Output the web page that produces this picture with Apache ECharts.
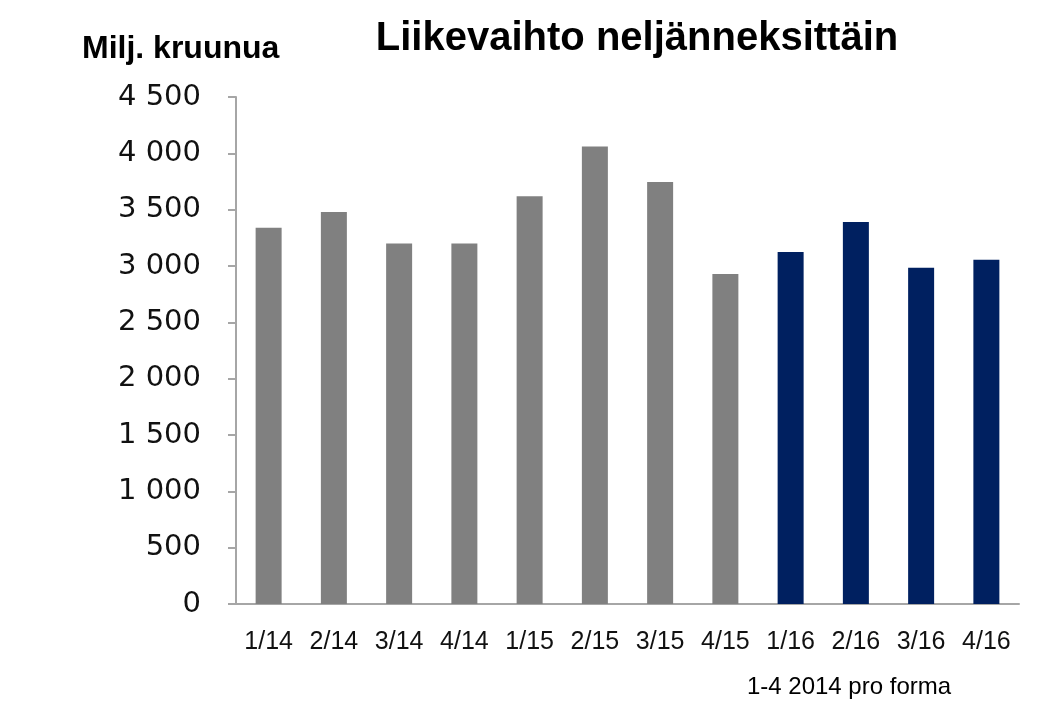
<!DOCTYPE html>
<html>
<head>
<meta charset="utf-8">
<script src="https://cdn.jsdelivr.net/npm/echarts@6/dist/echarts.min.js"></script>
<style>
html,body{margin:0;padding:0;background:#fff;}
#chart{width:1061px;height:719px;}
</style>
</head>
<body>
<div id="chart"></div>
<script>
const categories = ['1/14','2/14','3/14','4/14','1/15','2/15','3/15','4/15','1/16','2/16','3/16','4/16'];
const revenue = [3340, 3480, 3200, 3200, 3620, 4060, 3745, 2930, 3125, 3390, 2985, 3055];
const barColors = ['#808080','#808080','#808080','#808080','#808080','#808080','#808080','#808080','#002060','#002060','#002060','#002060'];
const titleText = 'Liikevaihto neljänneksittäin';
const unitText = 'Milj. kruunua';
const noteText = '1-4 2014 pro forma';

const chart = echarts.init(document.getElementById('chart'));
const sans = '"Liberation Sans", Arial, sans-serif';
chart.setOption({
  animation: false,
  backgroundColor: '#ffffff',
  title: [
    {text: titleText, left: 632, top: 14, textAlign: 'center',
     textStyle: {fontFamily: sans, fontWeight: 'bold', fontSize: 40, color: '#000'}},
    {text: unitText, left: 77, top: 28,
     textStyle: {fontFamily: sans, fontWeight: 'bold', fontSize: 32, color: '#000'}},
    {text: noteText, left: 844, top: 670, textAlign: 'center',
     textStyle: {fontFamily: sans, fontWeight: 'normal', fontSize: 24, color: '#000'}}
  ],
  grid: {left: 236, right: 42, top: 97, bottom: 115, containLabel: false},
  xAxis: {
    type: 'category',
    data: categories,
    axisLine: {lineStyle: {color: '#a6a6a6', width: 2}},
    axisTick: {show: false},
    axisLabel: {fontFamily: sans, fontSize: 25, color: '#111', margin: 26, interval: 0}
  },
  yAxis: {
    type: 'value',
    min: 0, max: 4500, interval: 500,
    axisLine: {show: true, lineStyle: {color: '#a6a6a6', width: 2}},
    axisTick: {show: true, inside: false, length: 8, lineStyle: {color: '#a6a6a6', width: 2}},
    splitLine: {show: false},
    axisLabel: {
      fontFamily: '"DejaVu Sans", Verdana, sans-serif', fontSize: 29, color: '#111', margin: 35,
      formatter: v => String(v).replace(/\B(?=(\d{3})+(?!\d))/g, ' ')
    }
  },
  series: [{
    type: 'bar',
    barWidth: 26,
    data: revenue.map((v, i) => ({value: v, itemStyle: {color: barColors[i]}}))
  }]
});
</script>
</body>
</html>
